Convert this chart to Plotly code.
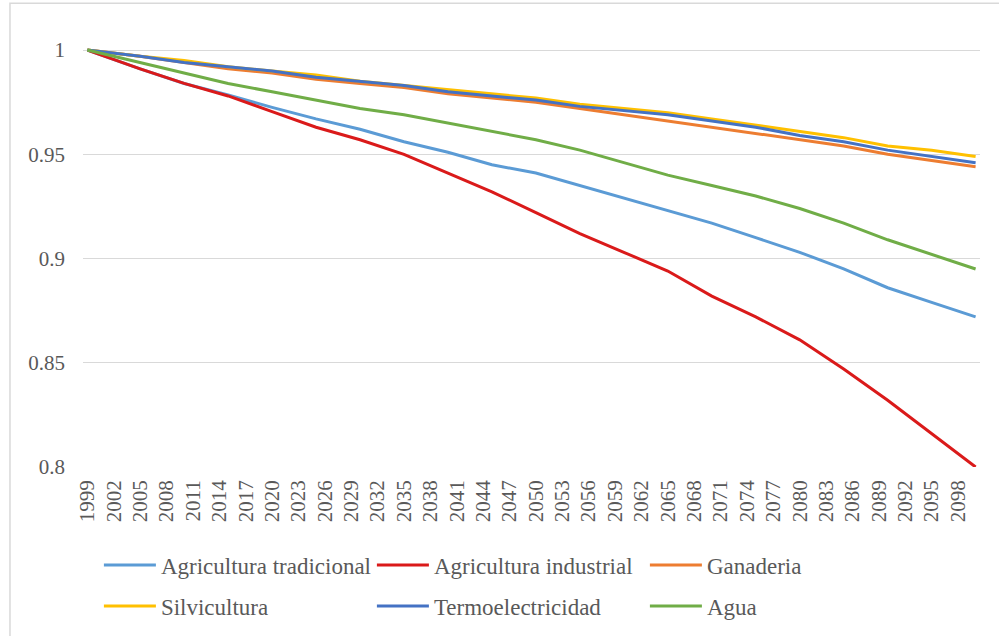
import plotly.graph_objects as go

years = [1999, 2005, 2010, 2015, 2020, 2025, 2030, 2035, 2040, 2045, 2050,
         2055, 2060, 2065, 2070, 2075, 2080, 2085, 2090, 2095, 2100]

agri_tradicional = [1.0, 0.991, 0.984, 0.9785, 0.9725, 0.967, 0.962, 0.956, 0.951, 0.945, 0.941,
                    0.935, 0.929, 0.923, 0.917, 0.910, 0.903, 0.895, 0.886, 0.879, 0.872]
agri_industrial = [1.0, 0.991, 0.984, 0.978, 0.9705, 0.963, 0.957, 0.950, 0.941, 0.932, 0.922,
                   0.912, 0.903, 0.894, 0.882, 0.872, 0.861, 0.847, 0.832, 0.816, 0.800]
ganaderia = [1.0, 0.997, 0.994, 0.991, 0.989, 0.986, 0.984, 0.982, 0.979, 0.977, 0.975,
             0.972, 0.969, 0.966, 0.963, 0.960, 0.957, 0.954, 0.950, 0.947, 0.944]
silvicultura = [1.0, 0.997, 0.995, 0.992, 0.990, 0.988, 0.985, 0.983, 0.981, 0.979, 0.977,
                0.974, 0.972, 0.970, 0.967, 0.964, 0.961, 0.958, 0.954, 0.952, 0.949]
termoelectricidad = [1.0, 0.997, 0.994, 0.992, 0.990, 0.987, 0.985, 0.983, 0.980, 0.978, 0.976,
                     0.973, 0.971, 0.969, 0.966, 0.963, 0.959, 0.956, 0.952, 0.949, 0.946]
agua = [1.0, 0.994, 0.989, 0.984, 0.980, 0.976, 0.972, 0.969, 0.965, 0.961, 0.957,
        0.952, 0.946, 0.940, 0.935, 0.930, 0.924, 0.917, 0.909, 0.902, 0.895]

tick_years = list(range(1999, 2099, 3))

series = [
    ('Agricultura tradicional', agri_tradicional, '#5B9BD5', 'legend'),
    ('Agricultura industrial', agri_industrial, '#DA1A1A', 'legend'),
    ('Ganaderia', ganaderia, '#ED7D31', 'legend'),
    ('Silvicultura', silvicultura, '#FFC000', 'legend2'),
    ('Termoelectricidad', termoelectricidad, '#4472C4', 'legend2'),
    ('Agua', agua, '#70AD47', 'legend2'),
]

font_name = 'Liberation Serif'
grey_text = '#595959'

fig = go.Figure()
for name, vals, color, leg in series:
    fig.add_trace(go.Scatter(x=years, y=vals, name=name, mode='lines',
                             line=dict(color=color, width=3), legend=leg))

# two one-row legends, so each row sits where the reference has it
legend_style = dict(orientation='h', xref='container', yref='container',
                    xanchor='left', yanchor='middle',
                    font=dict(family=font_name, size=23, color=grey_text),
                    itemwidth=52, entrywidth=206, entrywidthmode='pixels',
                    bgcolor='rgba(0,0,0,0)', traceorder='normal')

fig.update_layout(
    width=999, height=636,
    margin=dict(l=83, r=19, t=48, b=169),
    paper_bgcolor='white', plot_bgcolor='white',
    font=dict(family=font_name, color=grey_text),
    xaxis=dict(range=[1998.5, 2100.5], tickvals=tick_years,
               ticktext=[str(y) for y in tick_years], tickangle=-90,
               tickfont=dict(family=font_name, size=21, color=grey_text),
               showgrid=False, zeroline=False, showline=False, ticks='',
               ticklabelstandoff=8, automargin=False),
    yaxis=dict(range=[0.8, 1.001], tickvals=[0.8, 0.85, 0.9, 0.95, 1],
               ticktext=['0.8', '0.85', '0.9', '0.95', '1'],
               tickfont=dict(family=font_name, size=21, color=grey_text),
               showgrid=True, gridcolor='#D9D9D9', gridwidth=1,
               zeroline=False, showline=False, ticks='', ticklabelstandoff=17,
               automargin=False),
    legend=dict(x=0.099, y=0.1116, **legend_style),
    legend2=dict(x=0.099, y=0.0472, **legend_style),
    shapes=[dict(type='rect', xref='paper', yref='paper',
                 x0=-0.0814, x1=1.04, y0=-0.42, y1=1.107,
                 line=dict(color='#D9D9D9', width=1.5))],
)

fig.write_html('out.html', config={'displayModeBar': False},
               post_script="document.body.style.margin = '0px';")
